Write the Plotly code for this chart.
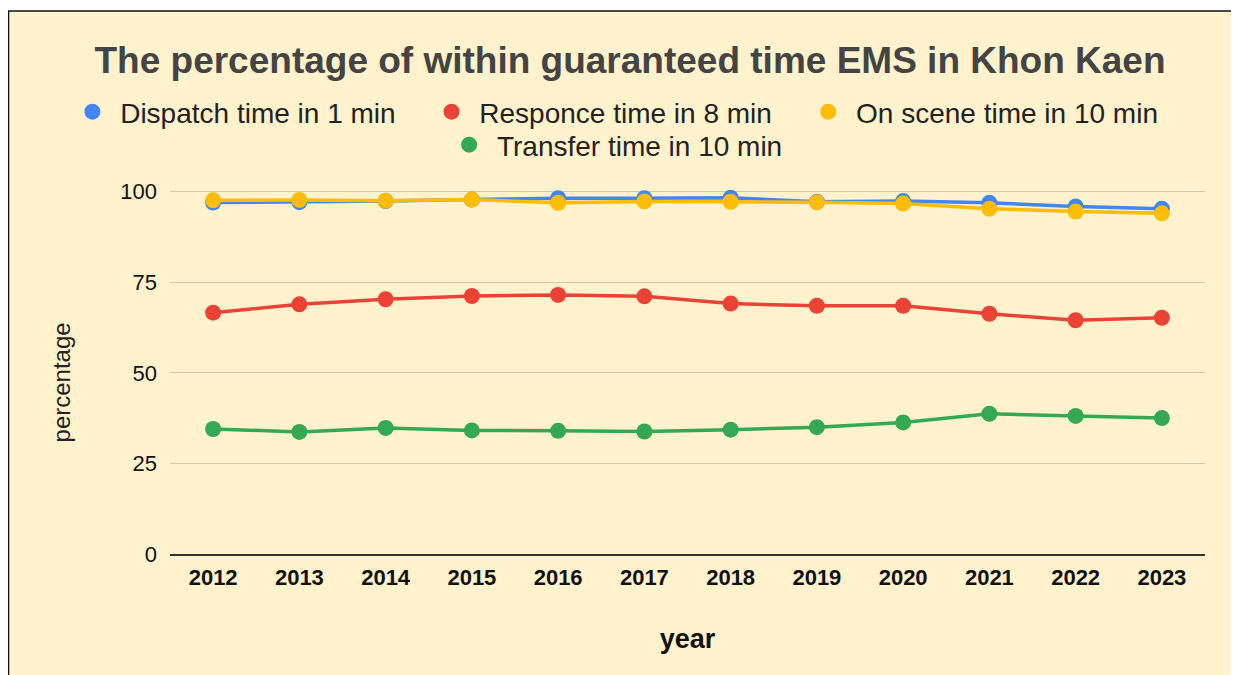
import plotly.graph_objects as go

# data
years = ['2012', '2013', '2014', '2015', '2016', '2017', '2018', '2019', '2020', '2021', '2022', '2023']
dispatch = [97.0, 97.1, 97.4, 97.8, 98.2, 98.2, 98.3, 97.2, 97.4, 96.9, 95.9, 95.3]
responce = [66.6, 68.9, 70.3, 71.2, 71.5, 71.1, 69.1, 68.5, 68.5, 66.3, 64.5, 65.2]
on_scene = [97.6, 97.7, 97.5, 97.8, 96.9, 97.3, 97.2, 97.1, 96.7, 95.3, 94.5, 94.0]
transfer = [34.5, 33.7, 34.8, 34.1, 34.0, 33.8, 34.3, 35.0, 36.3, 38.7, 38.1, 37.5]

names = ['Dispatch time in 1 min', 'Responce time in 8 min',
         'On scene time in 10 min', 'Transfer time in 10 min']
colors = ['#4285F4', '#EA4335', '#FBBC04', '#34A853']
series = [dispatch, responce, on_scene, transfer]

FONT = 'Arial, Liberation Sans, sans-serif'
BG = '#FFF2CC'

fig = go.Figure()
for nm, col, vals in zip(names, colors, series):
    fig.add_trace(go.Scatter(x=years, y=vals, mode='lines+markers', name=nm,
                             line=dict(color=col, width=3.5),
                             marker=dict(color=col, size=16),
                             cliponaxis=False, showlegend=False))

# kazda polozka legendy ma vlastnu legendu, aby sedeli pozicie
leg_names = ['legend', 'legend2', 'legend3', 'legend4']
leg_pos = [(-0.0943, 1.2077), (0.2527, 1.2077), (0.6167, 1.2077), (0.2697, 1.1175)]
for nm, col, lg in zip(names, colors, leg_names):
    fig.add_trace(go.Scatter(x=[None], y=[None], mode='markers', name='\u00a0' + nm,
                             marker=dict(color=col, size=20), legend=lg))

legs = {}
for lg, (lx, ly) in zip(leg_names, leg_pos):
    legs[lg] = dict(orientation='h', x=lx, xanchor='left', y=ly, yanchor='middle',
                    font=dict(size=28, color='#222222', family=FONT),
                    bgcolor='rgba(0,0,0,0)', borderwidth=0)

fig.update_layout(
    width=1231, height=667,
    margin=dict(l=162, r=34, t=180, b=121),
    paper_bgcolor='white', plot_bgcolor='rgba(0,0,0,0)',
    font=dict(family=FONT, color='#222222'),
    title=dict(text='<b>The percentage of within guaranteed time EMS in Khon Kaen</b>',
               x=0.5053, xanchor='center', y=0.922, yanchor='middle',
               font=dict(size=37, color='#444444', family=FONT)),
    shapes=[dict(type='rect', xref='paper', yref='paper',
                 x0=-0.156, x1=1.04, y0=-0.34, y1=1.4836,
                 fillcolor=BG, line=dict(color='#111111', width=1.5), layer='below')],
    annotations=[dict(text='percentage', xref='paper', yref='paper', x=-0.1039, y=0.47,
                      xanchor='center', yanchor='middle', textangle=-90, showarrow=False,
                      font=dict(size=24, color='#222222', family=FONT))],
    **legs,
)

fig.update_xaxes(range=[-0.5, 11.5], showgrid=False, showline=True, linecolor='#333333', linewidth=1.5,
                 tickfont=dict(size=22, color='#111111', family=FONT),
                 tickprefix='<b>', ticksuffix='</b>', ticklabelstandoff=3,
                 title=dict(text='<b>year</b>', font=dict(size=27, color='#111111'), standoff=40))
fig.update_yaxes(range=[0, 101], tickvals=[0, 25, 50, 75, 100], showgrid=True,
                 gridcolor='#CFC7AE', gridwidth=1.2, zeroline=False,
                 tickfont=dict(size=22, color='#111111', family=FONT),
                 tickprefix='<b>', ticksuffix='</b>', ticklabelstandoff=12)

fig.write_html("out.html")
